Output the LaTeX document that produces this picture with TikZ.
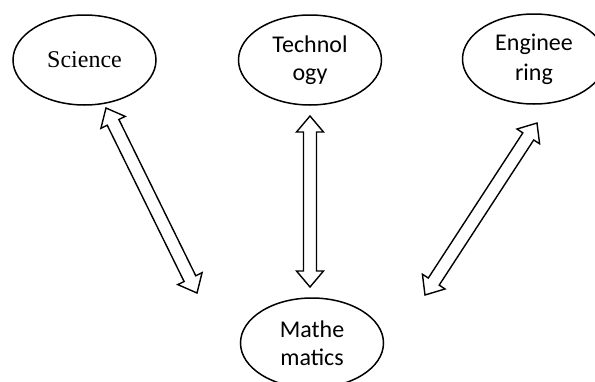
\documentclass[tikz,border=0pt]{standalone}
\usepackage{fontspec}
\setmainfont{Carlito}
\newfontfamily\seriffamilyx{Liberation Serif}
\usetikzlibrary{shapes.geometric,calc}
\tikzset{
  topic/.style={ellipse, draw, line width=1.5pt, minimum width=143pt, minimum height=90pt,
    inner sep=0pt, align=center, font=\fontsize{24}{28}\selectfont},
  arrowline/.style={draw, line width=1.4pt, line join=miter, fill=white},
}
\newcommand{\hollowarrow}[2]{%
  \coordinate (hA) at ($(#1)!16pt!(#2)$);
  \coordinate (hB) at ($(#2)!16pt!(#1)$);
  \path[arrowline] (#1)
    -- ($(hA)!13.5pt!90:(#2)$) -- ($(hA)!6.5pt!90:(#2)$)
    -- ($(hB)!6.5pt!90:(#2)$) -- ($(hB)!13.5pt!90:(#2)$)
    -- (#2)
    -- ($(hB)!13.5pt!-90:(#2)$) -- ($(hB)!6.5pt!-90:(#2)$)
    -- ($(hA)!6.5pt!-90:(#2)$) -- ($(hA)!13.5pt!-90:(#2)$)
    -- cycle;
}
\begin{document}
\begin{tikzpicture}[x=1pt,y=-1pt]
  \useasboundingbox (0,0) rectangle (595,381);
  \clip (0,0) rectangle (595,381);
  \fill[white] (0,0) rectangle (595,381);
  \node[topic, font=\seriffamilyx\fontsize{24}{28}\selectfont] (sci) at (84.5,60) {Science};
  \node[topic] (tech) at (310,60) {Technol\\ogy};
  \node[topic] (eng) at (534,59) {\raisebox{2pt}{Enginee}\\ring};
  \node[topic] (math) at (312,343) {\raisebox{-5pt}{Mathe}\\[-0pt]\raisebox{-5pt}{matics}};
  % arrow end points
  \coordinate (sciEnd) at (106,108);
  \coordinate (sciMath) at (197,293);
  \coordinate (techEnd) at (310,116);
  \coordinate (techMath) at (310,287);
  \coordinate (engEnd) at (537,123);
  \coordinate (engMath) at (425,295);
  \hollowarrow{sciEnd}{sciMath}
  \hollowarrow{techEnd}{techMath}
  \hollowarrow{engEnd}{engMath}
\end{tikzpicture}
\end{document}
